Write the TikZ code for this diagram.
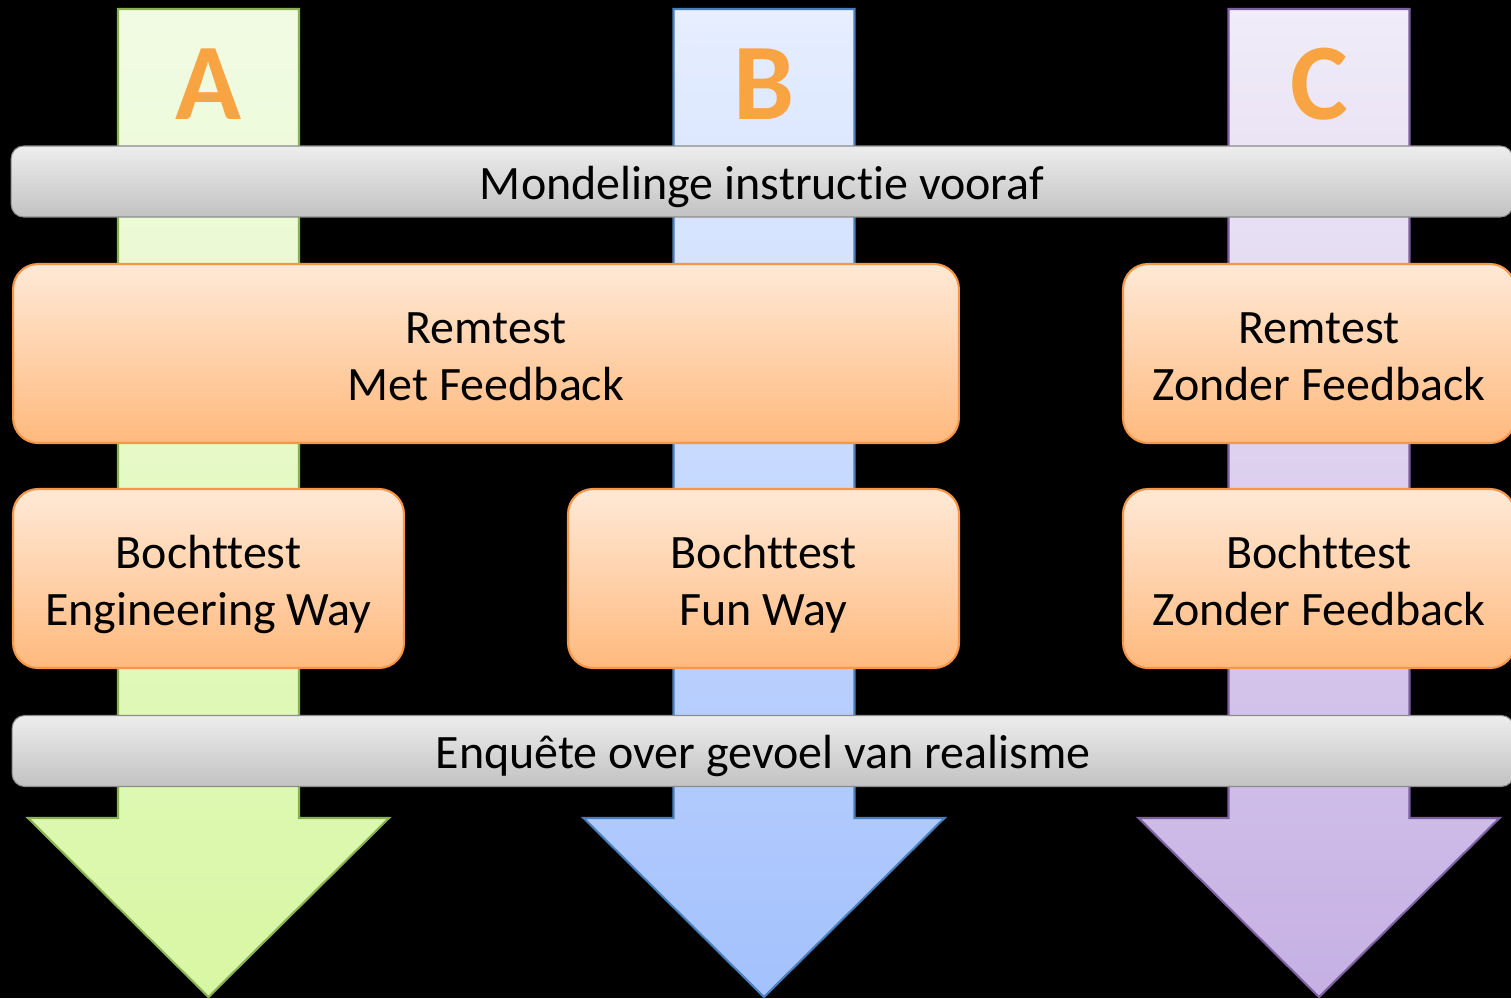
\documentclass[tikz,border=0pt]{standalone}
\usepackage{fontspec}
\setmainfont[Ligatures=NoCommon]{Carlito}
\usepackage{tikz}
\definecolor{ogtop}{HTML}{F1FBE4}
\definecolor{ogbot}{HTML}{D8F7A3}
\definecolor{ogline}{HTML}{8AB153}
\definecolor{obtop}{HTML}{E6EEFF}
\definecolor{obbot}{HTML}{A3C1FD}
\definecolor{obline}{HTML}{4A7EBB}
\definecolor{optop}{HTML}{F0ECF8}
\definecolor{opbot}{HTML}{C6B0E4}
\definecolor{opline}{HTML}{7D60A0}
\definecolor{orgtop}{HTML}{FFE9D7}
\definecolor{orgbot}{HTML}{FFB97D}
\definecolor{orgline}{HTML}{F79646}
\definecolor{barhi}{HTML}{EDEDED}
\definecolor{barlo}{HTML}{C2C2C2}
\definecolor{barline}{HTML}{8C8C8C}
\definecolor{letfill}{HTML}{F9A443}
\newcommand{\lnstrut}{\rule[-3.5pt]{0pt}{28.5pt}}

\begin{document}
\begin{tikzpicture}[x=0.02cm, y=-0.02cm, font=\fontsize{27.3}{32.4}\selectfont,
  box/.style={draw=orgline, line width=1.2pt, rounded corners=0.5cm, top color=orgtop, bottom color=orgbot,
    align=center, minimum height=3.58cm, inner sep=0pt, text height=60pt, text depth=7pt},
  bar/.style={draw=barline, line width=0.6pt, rounded corners=0.25cm, top color=barhi, bottom color=barlo,
    minimum height=1.42cm, minimum width=30.04cm, inner sep=0pt,
    execute at begin node=\lnstrut},
  lane/.style={line width=1.2pt, line join=miter},
  lett/.style={font=\fontsize{62}{62}\selectfont\bfseries, text=letfill}]
  % background and page size
  \fill[black] (0,0) rectangle (1511,998);
  \useasboundingbox (0,0) rectangle (1511,998);
  \clip (0,0) rectangle (1511,998);
  % the three lanes
  \foreach \cx/\ct/\cb/\cl in {208.5/ogtop/ogbot/ogline, 764/obtop/obbot/obline, 1319/optop/opbot/opline}
    \path[lane, draw=\cl, top color=\ct, bottom color=\cb]
      (\cx-90.5,9) -- (\cx+90.5,9) -- (\cx+90.5,818) -- (\cx+180.5,818) -- (\cx,997)
      -- (\cx-180.5,818) -- (\cx-90.5,818) -- cycle;
  \node[lett] (la) at (208.5,84) {A};
  \node[lett] (lb) at (764,84) {B};
  \node[lett] (lc) at (1319,84) {C};
  % steps
  \node[bar] (instr) at (762,181.5) {Mondelinge instructie vooraf};
  \node[box, minimum width=18.92cm] (remab) at (486,353.5) {Remtest\\Met Feedback};
  \node[box, minimum width=7.84cm] (remc) at (1319,353.5) {Remtest\\Zonder Feedback};
  \node[box, minimum width=7.82cm] (bocha) at (208.5,578.5) {Bochttest\\Engineering Way};
  \node[box, minimum width=7.82cm] (bochb) at (763.5,578.5) {Bochttest\\Fun Way};
  \node[box, minimum width=7.84cm] (bochc) at (1319,578.5) {Bochttest\\Zonder Feedback};
  \node[bar] (enq) at (763,751) {Enquête over gevoel van realisme};
\end{tikzpicture}
\end{document}
